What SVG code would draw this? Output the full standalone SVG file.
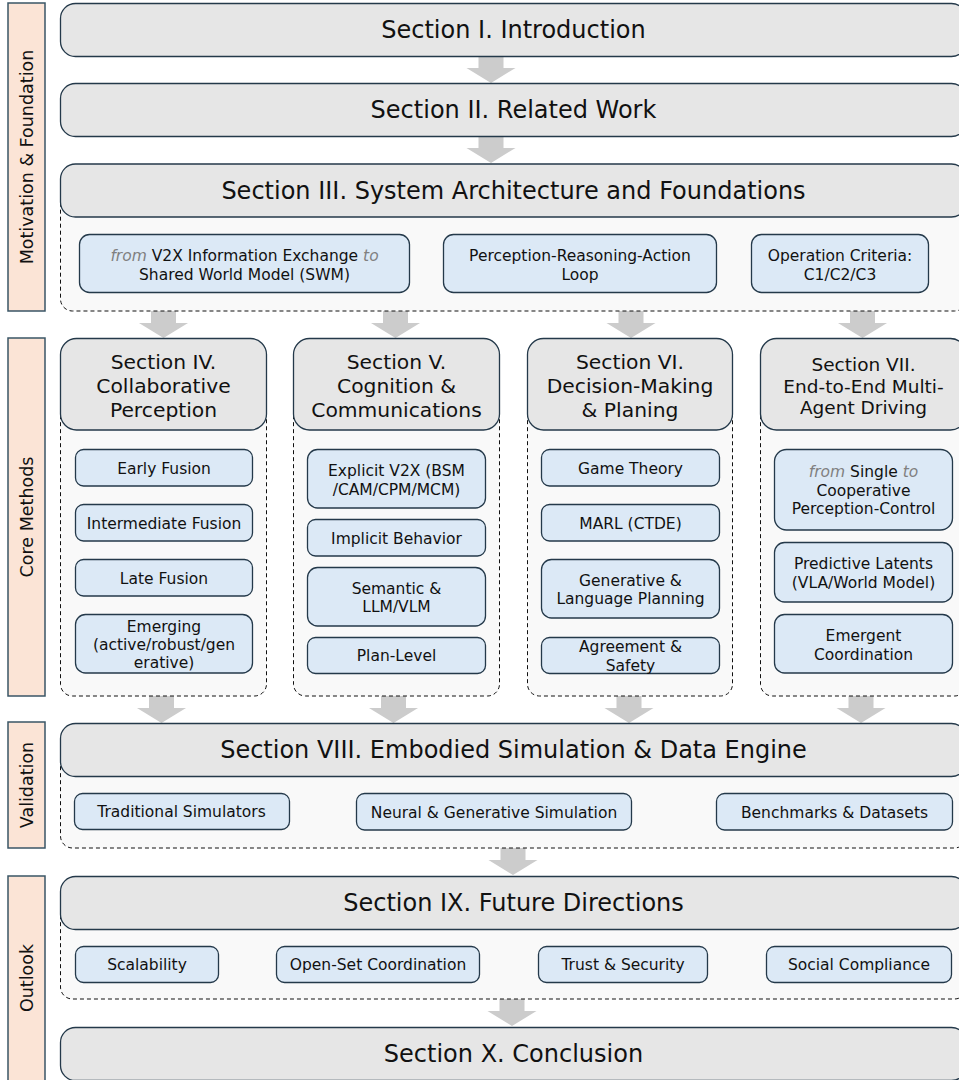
<svg xmlns="http://www.w3.org/2000/svg" xmlns:xlink="http://www.w3.org/1999/xlink" width="959" height="1080" viewBox="0 0 959 1080">
<style>
text{font-family:"DejaVu Sans",Verdana,sans-serif;fill:#111;text-anchor:middle}
.side{fill:#fbe4d6;stroke:#3a5566;stroke-width:1.5}
.sideT{font-size:17.5px}
.hdr{fill:#e6e6e6;stroke:#24394a;stroke-width:1.3}
.hdrT{font-size:24px}
.colT{font-size:20.3px}
.col4T{font-size:18.5px}
.cont{fill:#f9f9f9;stroke:#111;stroke-width:1;stroke-dasharray:4 3}
.item{fill:#dce9f6;stroke:#24394a;stroke-width:1.3}
.itemT{font-size:15.5px}
.dim{fill:#808080;font-style:italic}
.arr{fill:#cccccc}
</style>
<defs>
<path id="ar" d="M-12.5,0 H12.5 V12 H24.5 L0,27 L-24.5,12 H-12.5 Z"/>
</defs>
<g id="side-labels">
<g id="lbl-motivation"><rect class="side" x="8" y="3" width="37" height="308"/><text class="sideT" transform="translate(33,157) rotate(-90)">Motivation &amp; Foundation</text></g>
<g id="lbl-core"><rect class="side" x="8" y="338" width="37" height="358"/><text class="sideT" transform="translate(33,517) rotate(-90)">Core Methods</text></g>
<g id="lbl-validation"><rect class="side" x="8" y="722" width="37" height="126"/><text class="sideT" transform="translate(33,785) rotate(-90)">Validation</text></g>
<g id="lbl-outlook"><rect class="side" x="8" y="876" width="37" height="210"/><text class="sideT" transform="translate(33,978) rotate(-90)">Outlook</text></g>
</g>
<g id="connectors">
<use xlink:href="#ar" class="arr" transform="translate(491,56)"/>
<use xlink:href="#ar" class="arr" transform="translate(491,136)"/>
<use xlink:href="#ar" class="arr" transform="translate(163.5,311)"/>
<use xlink:href="#ar" class="arr" transform="translate(395.5,311)"/>
<use xlink:href="#ar" class="arr" transform="translate(631,311)"/>
<use xlink:href="#ar" class="arr" transform="translate(862.5,311)"/>
<use xlink:href="#ar" class="arr" transform="translate(161.5,696)"/>
<use xlink:href="#ar" class="arr" transform="translate(393.5,696)"/>
<use xlink:href="#ar" class="arr" transform="translate(629,696)"/>
<use xlink:href="#ar" class="arr" transform="translate(861,696)"/>
<use xlink:href="#ar" class="arr" transform="translate(513,848)"/>
<use xlink:href="#ar" class="arr" transform="translate(512,999)"/>
</g>
<g id="sec1"><rect class="hdr" x="60.5" y="3.5" width="906" height="53" rx="15"/><text class="hdrT" x="513.5" y="38">Section I. Introduction</text></g>
<g id="sec2"><rect class="hdr" x="60.5" y="83.5" width="906" height="53" rx="15"/><text class="hdrT" x="513.5" y="118">Section II. Related Work</text></g>
<g id="sec3">
<rect class="cont" x="60.5" y="190.5" width="906" height="120.5" rx="12"/>
<rect class="hdr" x="60.5" y="164" width="906" height="53" rx="15"/><text class="hdrT" x="513.5" y="199">Section III. System Architecture and Foundations</text>
<g id="sec3-a"><rect class="item" x="79.5" y="234.5" width="330" height="58" rx="10"/><text class="itemT" x="244.5" y="261"><tspan class="dim">from</tspan> V2X Information Exchange <tspan class="dim">to</tspan></text><text class="itemT" x="244.5" y="279.5">Shared World Model (SWM)</text></g>
<g id="sec3-b"><rect class="item" x="443.5" y="234.5" width="273" height="58" rx="10"/><text class="itemT" x="580" y="261">Perception-Reasoning-Action</text><text class="itemT" x="580" y="279.5">Loop</text></g>
<g id="sec3-c"><rect class="item" x="751.5" y="234.5" width="177" height="58" rx="10"/><text class="itemT" x="840" y="261">Operation Criteria:</text><text class="itemT" x="840" y="279.5">C1/C2/C3</text></g>
</g>
<g id="sec4">
<rect class="cont" x="60.5" y="384" width="206" height="312" rx="12"/>
<rect class="hdr" x="60.5" y="338.5" width="206" height="91.5" rx="16"/>
<text class="colT" x="163.5" y="369">Section IV.</text><text class="colT" x="163.5" y="393">Collaborative</text><text class="colT" x="163.5" y="417">Perception</text>
<g id="early"><rect class="item" x="75.5" y="449.5" width="177" height="36.5" rx="8"/><text class="itemT" x="164" y="473.5">Early Fusion</text></g>
<g id="intermediate"><rect class="item" x="75.5" y="504.5" width="177" height="36.5" rx="8"/><text class="itemT" x="164" y="528.5">Intermediate Fusion</text></g>
<g id="late"><rect class="item" x="75.5" y="559.5" width="177" height="36.5" rx="8"/><text class="itemT" x="164" y="583.5">Late Fusion</text></g>
<g id="emerging"><rect class="item" x="75.5" y="614.5" width="177" height="58.5" rx="10"/><text class="itemT" x="164" y="632">Emerging</text><text class="itemT" x="164" y="650">(active/robust/gen</text><text class="itemT" x="164" y="668">erative)</text></g>
</g>
<g id="sec5">
<rect class="cont" x="293.5" y="384" width="206" height="312" rx="12"/>
<rect class="hdr" x="293.5" y="338.5" width="206" height="91.5" rx="16"/>
<text class="colT" x="396.5" y="369">Section V.</text><text class="colT" x="396.5" y="393">Cognition &amp;</text><text class="colT" x="396.5" y="417">Communications</text>
<g id="explicit"><rect class="item" x="307.5" y="449.5" width="178" height="58.5" rx="10"/><text class="itemT" x="396.5" y="476">Explicit V2X (BSM</text><text class="itemT" x="396.5" y="494.5">/CAM/CPM/MCM)</text></g>
<g id="implicit"><rect class="item" x="307.5" y="519.5" width="178" height="36.5" rx="8"/><text class="itemT" x="396.5" y="543.5">Implicit Behavior</text></g>
<g id="semantic"><rect class="item" x="307.5" y="567.5" width="178" height="58.5" rx="10"/><text class="itemT" x="396.5" y="593.5">Semantic &amp;</text><text class="itemT" x="396.5" y="612">LLM/VLM</text></g>
<g id="plan"><rect class="item" x="307.5" y="637.5" width="178" height="36" rx="8"/><text class="itemT" x="396.5" y="661">Plan-Level</text></g>
</g>
<g id="sec6">
<rect class="cont" x="527.5" y="384" width="205" height="312" rx="12"/>
<rect class="hdr" x="527.5" y="338.5" width="205" height="91.5" rx="16"/>
<text class="colT" x="630" y="369">Section VI.</text><text class="colT" x="630" y="393">Decision-Making</text><text class="colT" x="630" y="417">&amp; Planing</text>
<g id="game"><rect class="item" x="541.5" y="449.5" width="178" height="36.5" rx="8"/><text class="itemT" x="630.5" y="473.5">Game Theory</text></g>
<g id="marl"><rect class="item" x="541.5" y="504.5" width="178" height="36.5" rx="8"/><text class="itemT" x="630.5" y="528.5">MARL (CTDE)</text></g>
<g id="generative"><rect class="item" x="541.5" y="559.5" width="178" height="58.5" rx="10"/><text class="itemT" x="630.5" y="585.5">Generative &amp;</text><text class="itemT" x="630.5" y="604">Language Planning</text></g>
<g id="agreement"><rect class="item" x="541.5" y="637.5" width="178" height="36" rx="8"/><text class="itemT" x="630.5" y="652">Agreement &amp;</text><text class="itemT" x="630.5" y="670.5">Safety</text></g>
</g>
<g id="sec7">
<rect class="cont" x="760.5" y="384" width="206" height="312" rx="12"/>
<rect class="hdr" x="760.5" y="338.5" width="206" height="91.5" rx="16"/>
<text class="col4T" x="863.5" y="371">Section VII.</text><text class="col4T" x="863.5" y="392.5">End-to-End Multi-</text><text class="col4T" x="863.5" y="414">Agent Driving</text>
<g id="single"><rect class="item" x="774.5" y="449.5" width="178" height="80.5" rx="12"/><text class="itemT" x="863.5" y="477"><tspan class="dim">from</tspan> Single <tspan class="dim">to</tspan></text><text class="itemT" x="863.5" y="495.5">Cooperative</text><text class="itemT" x="863.5" y="514">Perception-Control</text></g>
<g id="predictive"><rect class="item" x="774.5" y="542.5" width="178" height="59.5" rx="10"/><text class="itemT" x="863.5" y="569">Predictive Latents</text><text class="itemT" x="863.5" y="587.5">(VLA/World Model)</text></g>
<g id="emergent"><rect class="item" x="774.5" y="614.5" width="178" height="58.5" rx="10"/><text class="itemT" x="863.5" y="641">Emergent</text><text class="itemT" x="863.5" y="659.5">Coordination</text></g>
</g>
<g id="sec8">
<rect class="cont" x="60.5" y="750" width="906" height="98" rx="12"/>
<rect class="hdr" x="60.5" y="723.5" width="906" height="53" rx="15"/><text class="hdrT" x="513.5" y="758">Section VIII. Embodied Simulation &amp; Data Engine</text>
<g id="traditional"><rect class="item" x="74.5" y="793.5" width="215" height="36" rx="8"/><text class="itemT" x="181.5" y="817">Traditional Simulators</text></g>
<g id="neural"><rect class="item" x="356.5" y="793.5" width="275" height="36.5" rx="8"/><text class="itemT" x="494" y="817.5">Neural &amp; Generative Simulation</text></g>
<g id="bench"><rect class="item" x="716.5" y="793.5" width="236" height="36.5" rx="8"/><text class="itemT" x="834.5" y="817.5">Benchmarks &amp; Datasets</text></g>
</g>
<g id="sec9">
<rect class="cont" x="60.5" y="903" width="906" height="96" rx="12"/>
<rect class="hdr" x="60.5" y="876.5" width="906" height="53" rx="15"/><text class="hdrT" x="513.5" y="911">Section IX. Future Directions</text>
<g id="scal"><rect class="item" x="75.5" y="946.5" width="143" height="36" rx="8"/><text class="itemT" x="147" y="970">Scalability</text></g>
<g id="openset"><rect class="item" x="276.5" y="946.5" width="203" height="36" rx="8"/><text class="itemT" x="378" y="970">Open-Set Coordination</text></g>
<g id="trust"><rect class="item" x="538.5" y="946.5" width="169" height="36" rx="8"/><text class="itemT" x="623" y="970">Trust &amp; Security</text></g>
<g id="social"><rect class="item" x="766.5" y="946.5" width="185" height="36" rx="8"/><text class="itemT" x="859" y="970">Social Compliance</text></g>
</g>
<g id="sec10"><rect class="hdr" x="60.5" y="1027.5" width="906" height="53" rx="15"/><text class="hdrT" x="513.5" y="1062">Section X. Conclusion</text></g>
</svg>
